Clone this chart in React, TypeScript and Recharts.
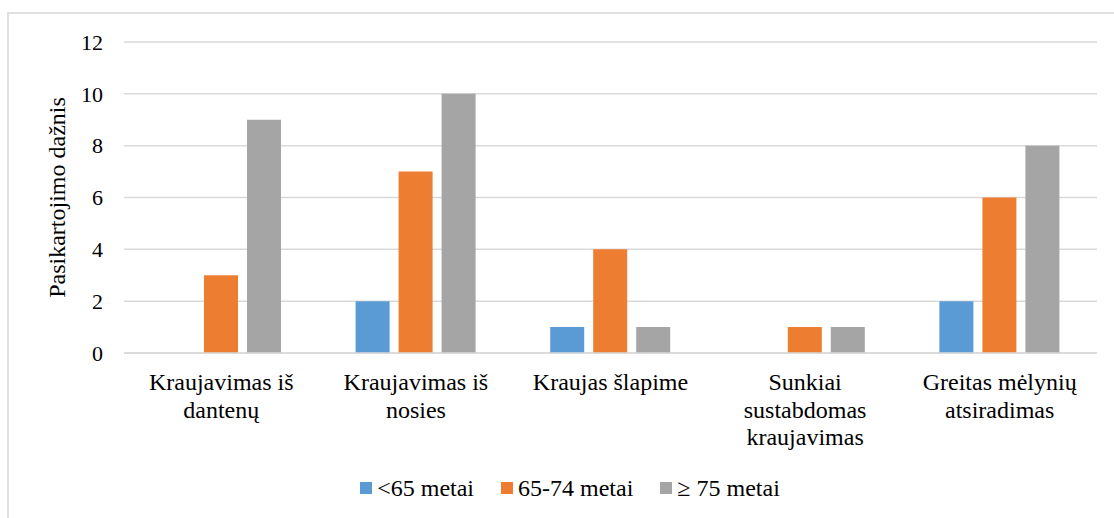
import { Bar, BarChart, CartesianGrid, XAxis, YAxis } from "recharts";

const categories = [
  "Kraujavimas iš\ndantenų",
  "Kraujavimas iš\nnosies",
  "Kraujas šlapime",
  "Sunkiai\nsustabdomas\nkraujavimas",
  "Greitas mėlynių\natsiradimas",
];
const under65 = [0, 2, 1, 0, 2];
const from65to74 = [3, 7, 4, 1, 6];
const over75 = [9, 10, 1, 1, 8];
const yTicks = [0, 2, 4, 6, 8, 10, 12];

const series = [
  { key: "a", name: "<65 metai", values: under65, color: "#5B9BD5" },
  { key: "b", name: "65-74 metai", values: from65to74, color: "#ED7D31" },
  { key: "c", name: "≥ 75 metai", values: over75, color: "#A5A5A5" },
];

const rows = categories.map((cat, i) => {
  const row: Record<string, string | number> = { cat };
  series.forEach((s) => (row[s.key] = s.values[i]));
  return row;
});

const FONT = "Liberation Serif, DejaVu Serif, serif";
const GRID = "#D9D9D9";

function CategoryTick({ x, y, payload }: any) {
  const lines = String(payload.value).split("\n");
  return (
    <text x={x} y={y} textAnchor="middle" fill="#000" style={{ fontFamily: FONT, fontSize: 24 }}>
      {lines.map((l, i) => (
        <tspan key={i} x={x} dy={i === 0 ? 37 : 27.5}>
          {l}
        </tspan>
      ))}
    </text>
  );
}

function YTitle({ viewBox }: any) {
  const cx = viewBox.x + 49;
  const cy = viewBox.y + viewBox.height / 2;
  return (
    <text
      x={cx}
      y={cy}
      transform={`rotate(-90, ${cx}, ${cy})`}
      textAnchor="middle"
      dominantBaseline="central"
      fill="#000"
      style={{ fontFamily: FONT, fontSize: 24 }}
    >
      Pasikartojimo dažnis
    </text>
  );
}

export default function App() {
  return (
    <div
      style={{
        position: "absolute",
        left: 0,
        top: 0,
        width: 1114,
        height: 518,
        overflow: "hidden",
        background: "#fff",
        fontFamily: FONT,
      }}
    >
      {/* chart frame, runs off the right and bottom edges */}
      <div
        style={{
          position: "absolute",
          left: 7,
          top: 12,
          width: 1200,
          height: 600,
          border: "2px solid #E0E0E0",
        }}
      />
      <div style={{ position: "absolute", left: 0, top: 0 }}>
        <BarChart
          width={1114}
          height={518}
          data={rows}
          margin={{ top: 42, right: 17, bottom: 0, left: 8 }}
          barSize={34}
          barGap={9}
          style={{ fontFamily: FONT }}
        >
          <CartesianGrid vertical={false} stroke={GRID} strokeWidth={1.5} />
          <XAxis
            dataKey="cat"
            height={165}
            axisLine={{ stroke: GRID, strokeWidth: 1.5 }}
            tickLine={false}
            tickSize={0}
            tickMargin={0}
            interval={0}
            tick={<CategoryTick />}
          />
          <YAxis
            domain={[0, 12]}
            ticks={yTicks}
            width={116}
            axisLine={false}
            tickLine={false}
            tickSize={0}
            tickMargin={21}
            tick={{ fill: "#000", fontSize: 22, style: { fontFamily: FONT } }}
            label={{ content: <YTitle /> }}
          />
          {series.map((s) => (
            <Bar key={s.key} dataKey={s.key} name={s.name} fill={s.color} isAnimationActive={false} />
          ))}
        </BarChart>
      </div>
      {/* legend */}
      <div
        style={{
          position: "absolute",
          left: 0,
          width: 1140,
          top: 474,
          display: "flex",
          justifyContent: "center",
          gap: 27,
          fontSize: 24,
          lineHeight: "28px",
          color: "#000",
        }}
      >
        {series.map((s) => (
          <div key={s.key} style={{ display: "flex", alignItems: "center" }}>
            <span style={{ width: 12, height: 12, background: s.color, marginRight: 5, display: "inline-block" }} />
            <span>{s.name}</span>
          </div>
        ))}
      </div>
    </div>
  );
}
